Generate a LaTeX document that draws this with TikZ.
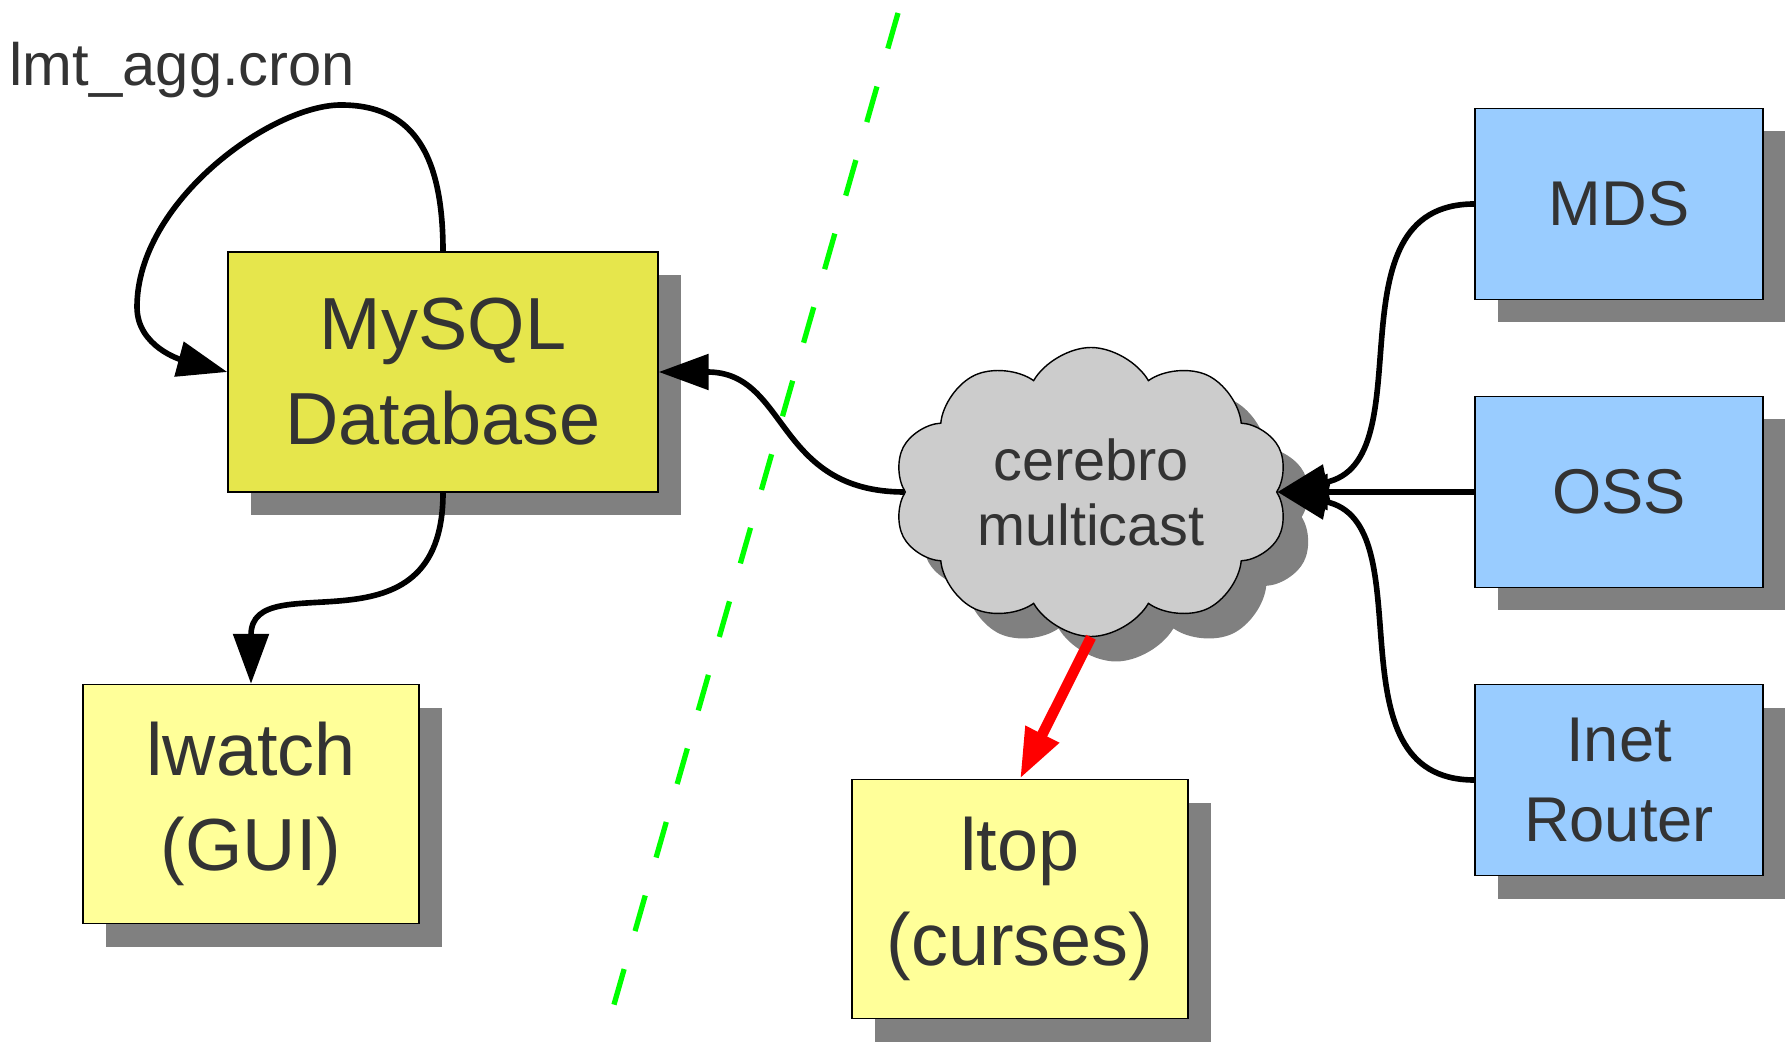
\documentclass[tikz,border=0pt]{standalone}
\usepackage{fontspec}
\setmainfont{Liberation Sans}
\usepackage{tikz}
\usetikzlibrary{shapes.symbols,shadows,arrows.meta}
\definecolor{txtgray}{HTML}{333333}
\definecolor{dbyellow}{HTML}{E6E64C}
\definecolor{appyellow}{HTML}{FFFF99}
\definecolor{srvblue}{HTML}{99CCFF}
\definecolor{shadowgray}{HTML}{808080}
\definecolor{cloudgray}{HTML}{CCCCCC}
\tikzstyle{box} = [rectangle, draw=black, line width=0.4pt, text=txtgray, align=center, drop shadow={shadow xshift=0.23cm, shadow yshift=-0.23cm, opacity=1, fill=shadowgray}]
\tikzstyle{dbbox} = [box, fill=dbyellow, minimum width=4.30cm, minimum height=2.40cm, font=\fontsize{21}{27}\selectfont]
\tikzstyle{appbox} = [box, fill=appyellow, minimum width=3.36cm, minimum height=2.39cm, font=\fontsize{21}{27}\selectfont]
\tikzstyle{srvbox} = [box, fill=srvblue, minimum width=2.88cm, minimum height=1.91cm, font=\fontsize{18}{23}\selectfont]
\tikzstyle{bus} = [cloud, cloud puffs=10, cloud puff arc=120, cloud ignores aspect, draw=black, line width=0.4pt, fill=cloudgray, text=txtgray, align=center, minimum width=3.95cm, minimum height=2.89cm, inner sep=0pt, font=\fontsize{16.4}{18.5}\selectfont, drop shadow={shadow xshift=0.25cm, shadow yshift=-0.25cm, opacity=1, fill=shadowgray}]
\tikzstyle{arrow} = [line width=1.6pt, -{Triangle[length=5mm, width=3.5mm]}]
\tikzstyle{divider} = [green, line width=1.5pt, dash pattern=on 0.37cm off 0.395cm]

\begin{document}
\begin{tikzpicture}[node distance=2.88cm]
        \useasboundingbox (0,0) rectangle (17.85,10.42);
        \coordinate (divtop) at (8.98,10.29);
        \coordinate (divbot) at (6.13,0.34);
        \draw [divider] (divtop) -- (divbot);
        \node (mysql) [dbbox] at (4.43,6.70) {MySQL\\Database};
        \node (lwatch) [appbox] at (2.51,2.38) {lwatch\\(GUI)};
        \node (ltop) [appbox] at (10.20,1.43) {ltop\\(curses)};
        \node (mds) [srvbox] at (16.19,8.38) {MDS};
        \node (oss) [srvbox, below of=mds] {OSS};
        \node (inet) [srvbox, below of=oss] {Inet\\Router};
        \node (cerebro) [bus] at (10.91,5.50) {cerebro\\multicast};
        \node (cron) [anchor=base west, inner sep=0pt, text=txtgray, font=\fontsize{17}{20}\selectfont] at (0.09,9.56) {lmt\_agg.cron};
        \coordinate (looptop) at (3.41,9.37);
        \coordinate (loopleft) at (1.37,7.35);
        \draw [arrow] (mysql.north) .. controls +(0,1) and +(0.7,0) .. (looptop) .. controls +(-0.7,0) and +(0,1.05) .. (loopleft) .. controls +(0,-0.4) and +(-0.45,0.12) .. (mysql.west);
        \draw [arrow] (mysql.south) .. controls +(0,-1.7) and +(0,1.22) .. (lwatch.north);
        \draw [arrow] (cerebro.west) .. controls +(-1.3,0) and +(1.3,0) .. (mysql.east);
        \draw [arrow] (mds.west) .. controls +(-1.5,0) and +(1.5,0.3) .. (cerebro.east);
        \draw [arrow] (oss.west) -- (cerebro.east);
        \draw [arrow] (inet.west) .. controls +(-1.5,0) and +(1.5,-0.3) .. (cerebro.east);
        \draw [arrow, red, line width=3pt] (cerebro.south) -- (ltop.north);
    \end{tikzpicture}
\end{document}
